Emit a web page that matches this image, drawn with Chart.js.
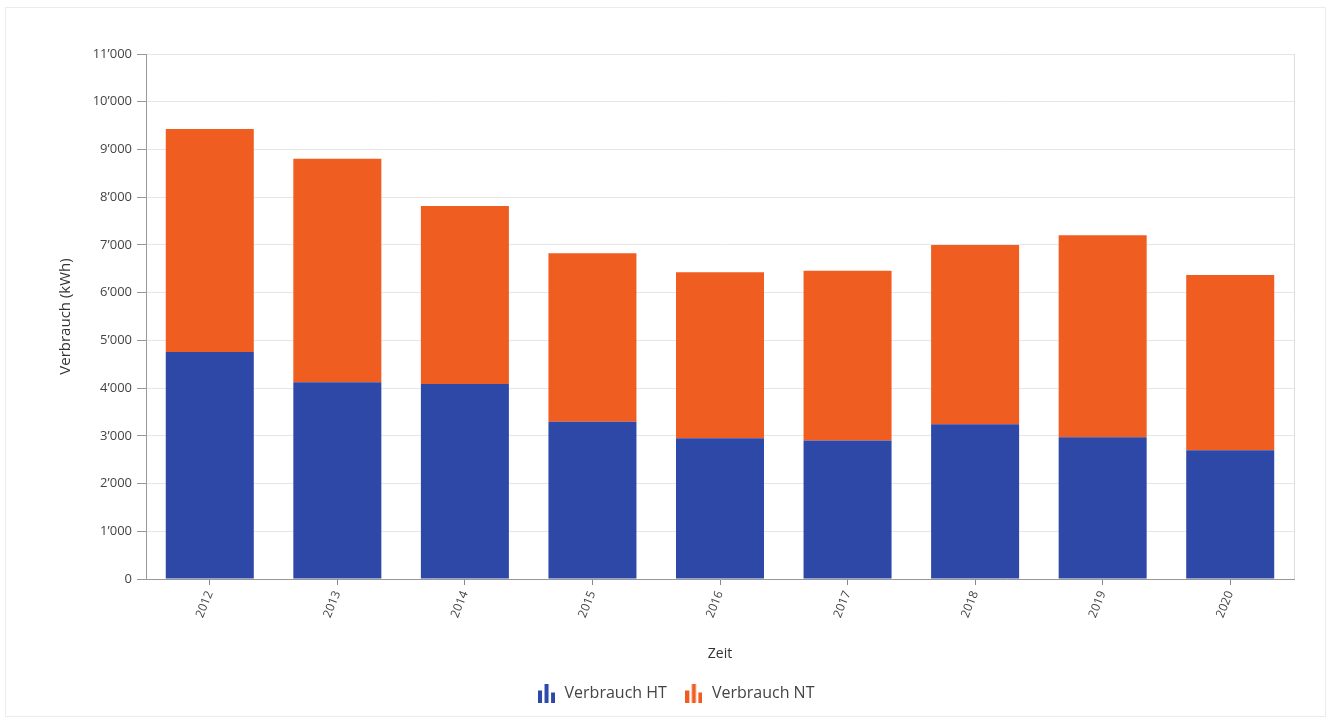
<!DOCTYPE html>
<html>
<head>
<meta charset="utf-8">
<script src="https://cdn.jsdelivr.net/npm/chart.js@4/dist/chart.umd.min.js"></script>
<style>
  html, body { margin: 0; padding: 0; background: #fff; }
  #wrap { position: relative; width: 1331px; height: 724px; }
  #frame { position: absolute; left: 5px; top: 7px; width: 1321px; height: 710px; border: 1px solid #ececec; box-sizing: border-box; pointer-events: none; }
  canvas { position: absolute; left: 0; top: 0; }
</style>
</head>
<body>
<div id="wrap">
  <canvas id="chart" width="1331" height="724"></canvas>
  <div id="frame"></div>
</div>
<script>
// Jahresverbrauch, aufgeteilt in Hochtarif (HT) und Niedertarif (NT)
const years = ['2012', '2013', '2014', '2015', '2016', '2017', '2018', '2019', '2020'];
const verbrauchHT = [4755, 4125, 4085, 3295, 2950, 2900, 3245, 2970, 2700];
const verbrauchNT = [4675, 4680, 3730, 3530, 3475, 3560, 3755, 4235, 3670];
const yTicks = [0, 1000, 2000, 3000, 4000, 5000, 6000, 7000, 8000, 9000, 10000, 11000];

const BLUE = '#2E48A8';
const ORANGE = '#EF5D20';
const FONT = '"Open Sans", "Noto Sans", sans-serif';

// small bar-chart glyph used as legend symbol
function barIcon(color) {
  const c = document.createElement('canvas');
  c.width = 17; c.height = 19;
  const g = c.getContext('2d');
  g.fillStyle = color;
  g.fillRect(0, 7, 4, 12);
  g.fillRect(6.5, 0, 4, 19);
  g.fillRect(13, 9, 4, 10);
  return c;
}

// thousands separator with apostrophe: 11’000
function fmt(v) {
  return String(v).replace(/\B(?=(\d{3})+(?!\d))/g, '’');
}

// thin line closing the plot on the right side
const rightEdge = {
  id: 'rightEdge',
  beforeDatasetsDraw(chart) {
    const { ctx, chartArea } = chart;
    ctx.save();
    ctx.strokeStyle = '#dedede';
    ctx.lineWidth = 1;
    ctx.beginPath();
    ctx.moveTo(Math.round(chartArea.right) + 0.5, chartArea.top);
    ctx.lineTo(Math.round(chartArea.right) + 0.5, chartArea.bottom);
    ctx.stroke();
    ctx.restore();
  }
};

new Chart(document.getElementById('chart'), {
  type: 'bar',
  data: {
    labels: years,
    datasets: [
      { label: 'Verbrauch HT', data: verbrauchHT, backgroundColor: BLUE, pointStyle: barIcon(BLUE) },
      { label: 'Verbrauch NT', data: verbrauchNT, backgroundColor: ORANGE, pointStyle: barIcon(ORANGE) }
    ]
  },
  options: {
    responsive: false,
    animation: false,
    layout: { padding: { left: 57, right: 37, top: 54, bottom: 13 } },
    datasets: { bar: { categoryPercentage: 1, barPercentage: 0.69 } },
    plugins: {
      tooltip: { enabled: false },
      legend: {
        position: 'bottom',
        labels: {
          usePointStyle: true,
          pointStyleWidth: 20,
          color: '#444',
          font: { family: FONT, size: 16 },
          padding: 17
        }
      }
    },
    scales: {
      x: {
        stacked: true,
        afterFit(s) { s.height = 89; },
        grid: { display: true, drawOnChartArea: false, offset: false, tickLength: 6, tickColor: '#888' },
        border: { color: '#999' },
        ticks: {
          minRotation: 68, maxRotation: 68,
          color: '#444',
          font: { family: FONT, size: 12 },
          padding: 4
        },
        title: { display: true, text: 'Zeit', color: '#333', font: { family: FONT, size: 14 }, padding: { top: 0, bottom: 6 } }
      },
      y: {
        stacked: true,
        min: 0, max: 11000,
        afterFit(s) { s.width = 89; },
        afterBuildTicks(s) { s.ticks = yTicks.map(v => ({ value: v })); },
        grid: { color: '#e6e6e6', tickLength: 9, tickColor: '#999' },
        border: { color: '#999' },
        ticks: {
          color: '#444',
          font: { family: FONT, size: 13 },
          padding: 5,
          callback: v => fmt(v)
        },
        title: { display: true, text: 'Verbrauch (kWh)', color: '#333', font: { family: FONT, size: 15 }, padding: { top: 0, bottom: 0 } }
      }
    }
  },
  plugins: [rightEdge]
});
</script>
</body>
</html>
